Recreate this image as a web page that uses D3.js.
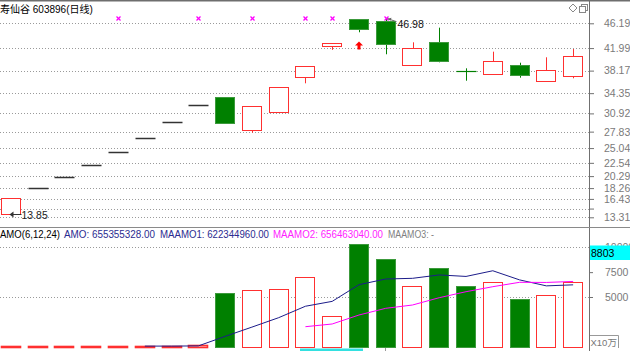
<!DOCTYPE html>
<html>
<head>
<meta charset="utf-8">
<script src="https://cdn.jsdelivr.net/npm/d3@7"></script>
<style>
  html, body { margin: 0; padding: 0; background: #fff; }
  svg { display: block; font-family: "Liberation Sans", Arial, "Noto Sans CJK SC", sans-serif; }
</style>
</head>
<body>
<svg id="container"></svg>
<script>
// ---- data ----
var title = "寿仙谷 603896(日线)";
var opens  = [13.85, 18.28, 20.11, 22.12, 24.33, 26.76, 29.44, 32.38, 33.65, 28.06, 31.10, 37.04, 42.29, 46.85, 46.58, 39.07, 43.07, 38.16, 37.60, 39.12, 36.46, 37.31];
var closes = [16.62, 18.28, 20.11, 22.12, 24.33, 26.76, 29.44, 32.38, 29.24, 32.12, 35.34, 38.90, 42.85, 45.17, 42.67, 41.95, 39.75, 38.16, 39.85, 37.43, 38.23, 40.70];
var highs  = [16.62, 18.28, 20.11, 22.12, 24.33, 26.76, 29.44, 32.38, 33.65, 32.12, 35.34, 38.90, 42.85, 46.85, 46.98, 42.97, 45.45, 38.56, 41.38, 39.51, 40.43, 41.83];
var lows   = [13.85, 18.28, 20.11, 22.12, 24.33, 26.76, 29.44, 32.38, 29.24, 27.65, 31.10, 36.02, 41.68, 44.67, 40.94, 39.07, 39.58, 36.46, 37.60, 36.97, 36.46, 36.87];
// r = up, g = down, f = one-price limit-up day
var kinds  = ["r","f","f","f","f","f","f","f","g","r","r","r","r","g","g","r","g","g","r","g","r","r"];
var volKinds = ["r","r","r","r","r","r","r","r","g","r","r","r","r","g","g","r","g","g","r","g","r","r"];
var amo    = [60, 60, 60, 60, 60, 60, 60, 150, 5402, 5734, 5835, 7042, 3119, 10332, 8793, 6137, 7887, 6137, 6539, 4829, 5171, 6553];
var maamo1 = [null, null, null, null, null, 60, 60, 80, 1040, 1970, 2920, 4070, 4560, 6240, 6810, 6880, 7220, 7070, 7640, 6720, 6120, 6223];
var maamo2 = [null, null, null, null, null, null, null, null, null, null, null, 2012, 2284, 3189, 3863, 4195, 4930, 5533, 6036, 6479, 6465, 6565];
var priceTicks = [13.31, 14.79, 16.43, 18.26, 20.29, 22.54, 25.04, 27.83, 30.92, 34.35, 38.17, 41.99, 46.19];
var unlabeledTicks = [14.79];
var volTicks = [5000, 7500, 10000];
var volGrid = [5000, 10000];
var signalMarks = [4, 7, 9, 11, 12, 14];   // magenta x marks on top
var buyArrow = {i: 13, v: 43.1};
var maxLabel = {i: 14, v: 46.98};
var minLabel = {i: 0, v: 13.85};
var cursorVol = 8803;
var amoLegend = [
  {t: "AMO(6,12,24)", c: "#000", x: 0, w: 60},
  {t: "AMO: 655355328.00", c: "#2b2b90", x: 64, w: 91},
  {t: "MAAMO1: 622344960.00", c: "#2b2b90", x: 160, w: 109},
  {t: "MAAMO2: 656463040.00", c: "#ff22ff", x: 273, w: 110},
  {t: "MAAMO3: -", c: "#808080", x: 388, w: 46}
];

var W = 630, H = 351, axisX = 589;
var RED = "#ff3030", GREEN = "#008000", GREEN_EDGE = "#3c9a3c";

var svg = d3.select("#container").attr("width", W).attr("height", H);

var idx = d3.range(opens.length);
var x = d3.scaleBand().domain(idx).range([-2.4, 586.5]).paddingInner(0.25).paddingOuter(0.125);
var bw = x.bandwidth();
function cx(i){ return Math.round(x(i) + bw / 2) + 0.5; }
function bx(i){ return Math.round(x(i)) + 0.5; }

var y = d3.scaleLinear().domain([13.31, 46.19]).range([217.3, 23.3]);
var yv = d3.scaleLinear().domain([0, 10000]).range([346.7, 247.3]);

// frame
svg.append("rect").attr("x", 0).attr("y", 0).attr("width", W).attr("height", 1.5).attr("fill", "#6e6e6e");
svg.append("line").attr("x1", axisX + 0.5).attr("x2", axisX + 0.5).attr("y1", 0).attr("y2", H)
  .attr("stroke", "#707070");
svg.append("line").attr("x1", 0).attr("x2", W).attr("y1", 227.5).attr("y2", 227.5).attr("stroke", "#8a8a8a");

// title
svg.append("text").attr("x", 0).attr("y", 12.5).attr("font-size", 10).attr("fill", "#000").text(title);

// icons top right
svg.append("path").attr("d", "M573,4 L577,8 L573,12 L569,8 Z").attr("fill", "none").attr("stroke", "#888");
svg.append("rect").attr("x", 581.5).attr("y", 4.5).attr("width", 6).attr("height", 6).attr("fill", "none").attr("stroke", "#888");
svg.append("rect").attr("x", 579.5).attr("y", 6.5).attr("width", 6).attr("height", 6).attr("fill", "#fff").attr("stroke", "#888");

// price grid
svg.append("g").selectAll("line").data(priceTicks).enter().append("line")
  .attr("x1", 0).attr("x2", axisX)
  .attr("y1", function(d){ return Math.round(y(d)) + 0.5; })
  .attr("y2", function(d){ return Math.round(y(d)) + 0.5; })
  .attr("stroke", "#9a9a9a").attr("stroke-dasharray", "1,2");

// price axis
var gY = svg.append("g").attr("transform", "translate(" + axisX + ",0)")
  .call(d3.axisRight(y).tickValues(priceTicks).tickSize(5).tickPadding(10)
    .tickFormat(function(d){ return unlabeledTicks.indexOf(d) >= 0 ? "" : d.toFixed(2); }));
gY.select(".domain").remove();
gY.selectAll(".tick line").attr("stroke", "#707070");
gY.selectAll(".tick text").attr("fill", "#7a7a7a").attr("font-size", 10.5).attr("font-family", "Liberation Sans, Arial");

// candles
var candles = svg.append("g");
idx.forEach(function(i){
  var k = kinds[i];
  var col = k === "r" ? RED : (k === "g" ? GREEN : "#333");
  var top = Math.round(y(Math.max(opens[i], closes[i])));
  var bot = Math.round(y(Math.min(opens[i], closes[i])));
  var c = cx(i);
  if (k === "f" || top === bot) {
    if (highs[i] !== lows[i])
      candles.append("line").attr("x1", c).attr("x2", c).attr("y1", y(highs[i])).attr("y2", y(lows[i])).attr("stroke", col);
    candles.append("line").attr("x1", bx(i)).attr("x2", bx(i) + Math.round(bw))
      .attr("y1", top + 0.5).attr("y2", top + 0.5).attr("stroke", col).attr("stroke-width", k === "f" ? 1.5 : 1.2);
    return;
  }
  if (highs[i] > Math.max(opens[i], closes[i]))
    candles.append("line").attr("x1", c).attr("x2", c).attr("y1", y(highs[i])).attr("y2", top).attr("stroke", col);
  if (lows[i] < Math.min(opens[i], closes[i]))
    candles.append("line").attr("x1", c).attr("x2", c).attr("y1", bot).attr("y2", y(lows[i])).attr("stroke", col);
  candles.append("rect").attr("x", bx(i)).attr("y", top + 0.5)
    .attr("width", Math.round(bw) - 1).attr("height", Math.max(1, bot - top))
    .attr("fill", k === "r" ? "#fff" : GREEN)
    .attr("stroke", k === "r" ? RED : GREEN_EDGE);
});

// magenta x marks
var xm = svg.append("g").attr("stroke", "#ff00ff").attr("stroke-width", 1.3);
signalMarks.forEach(function(i){
  var c = cx(i), yy = Math.round(y(47.05)) + 0.5;
  xm.append("line").attr("x1", c - 2).attr("x2", c + 2).attr("y1", yy - 2).attr("y2", yy + 2);
  xm.append("line").attr("x1", c - 2).attr("x2", c + 2).attr("y1", yy + 2).attr("y2", yy - 2);
});

// red buy arrow
(function(){
  var c = cx(buyArrow.i) - 0.5, t = y(buyArrow.v);
  svg.append("path").attr("fill", "#ff0000")
    .attr("d", "M" + c + "," + t + " L" + (c + 4) + "," + (t + 4) + " L" + (c + 1.5) + "," + (t + 4) +
      " L" + (c + 1.5) + "," + (t + 8) + " L" + (c - 1.5) + "," + (t + 8) + " L" + (c - 1.5) + "," + (t + 4) +
      " L" + (c - 4) + "," + (t + 4) + " Z");
})();

// max / min labels
(function(){
  var c = cx(maxLabel.i), yy = y(maxLabel.v);
  svg.append("line").attr("x1", c + 1).attr("y1", yy).attr("x2", c + 10).attr("y2", yy + 3).attr("stroke", "#666");
  svg.append("path").attr("d", "M" + (c + 1) + "," + yy + " l4,-1 l-1,3 z").attr("fill", "#666");
  svg.append("text").attr("x", c + 11).attr("y", yy + 9).attr("font-size", 10.5).attr("fill", "#111").text(maxLabel.v.toFixed(2));

  var c0 = cx(minLabel.i), y0 = Math.round(y(minLabel.v)) + 0.5;
  svg.append("line").attr("x1", c0 - 1).attr("y1", y0).attr("x2", c0 + 10).attr("y2", y0).attr("stroke", "#333");
  svg.append("path").attr("d", "M" + (c0 - 2) + "," + y0 + " l4,-3 l0,6 z").attr("fill", "#333");
  svg.append("text").attr("x", c0 + 10).attr("y", y0 + 4).attr("font-size", 10.5).attr("fill", "#222").text(minLabel.v.toFixed(2));
})();

// ---- AMO pane ----
var legend = svg.append("g").attr("font-size", 10);
amoLegend.forEach(function(d){
  legend.append("text").attr("x", d.x).attr("y", 237.5).attr("fill", d.c)
    .attr("textLength", d.w).attr("lengthAdjust", "spacingAndGlyphs").text(d.t);
});

svg.append("g").selectAll("line").data(volGrid).enter().append("line")
  .attr("x1", 0).attr("x2", axisX)
  .attr("y1", function(d){ return Math.round(yv(d)) + 0.5; })
  .attr("y2", function(d){ return Math.round(yv(d)) + 0.5; })
  .attr("stroke", "#9a9a9a").attr("stroke-dasharray", "1,2");

var gV = svg.append("g").attr("transform", "translate(" + axisX + ",0)")
  .call(d3.axisRight(yv).tickValues(volTicks).tickSize(4).tickPadding(12).tickFormat(d3.format("d")));
gV.select(".domain").remove();
gV.selectAll(".tick line").attr("stroke", "#707070");
gV.selectAll(".tick text").attr("fill", "#7a7a7a").attr("font-size", 10.5).attr("font-family", "Liberation Sans, Arial");

var vb = svg.append("g");
idx.forEach(function(i){
  var top = Math.round(yv(amo[i]));
  var base = Math.round(yv(0));
  var g = volKinds[i] === "g";
  vb.append("rect").attr("x", bx(i)).attr("y", top + 0.5)
    .attr("width", Math.round(bw) - 1).attr("height", Math.max(0.5, base - top))
    .attr("fill", g ? GREEN : "#fff").attr("stroke", g ? GREEN_EDGE : RED)
    .attr("stroke-width", amo[i] < 200 ? 1.6 : 1);
});

var line = d3.line().defined(function(d){ return d != null; })
  .x(function(d, i){ return x(i) + bw / 2; }).y(function(d){ return yv(d); });
svg.append("path").datum(maamo1).attr("d", line).attr("fill", "none").attr("stroke", "#1c1c8a").attr("stroke-width", 1);
svg.append("path").datum(maamo2).attr("d", line).attr("fill", "none").attr("stroke", "#ff00ff").attr("stroke-width", 1);

// cursor value box
(function(){
  var yy = Math.round(yv(cursorVol));
  svg.append("rect").attr("x", axisX + 1).attr("y", yy - 13.5).attr("width", W - axisX - 1).attr("height", 14.5).attr("fill", "#00ffff");
  svg.append("text").attr("x", axisX + 2).attr("y", yy - 2.5).attr("font-size", 10.5).attr("fill", "#000").text(cursorVol);
})();

// unit box
svg.append("path").attr("d", "M590,335.5 H618.5 V348").attr("fill", "none").attr("stroke", "#999");
svg.append("text").attr("x", 590.5).attr("y", 346).attr("font-size", 9.5).attr("fill", "#777").text("X10万");

// bottom strip
svg.append("rect").attr("x", 300).attr("y", 348.5).attr("width", 63).attr("height", 3).attr("fill", "#33e0e0");
svg.append("line").attr("x1", 385.5).attr("x2", 385.5).attr("y1", 348).attr("y2", 351).attr("stroke", "#999");
</script>
</body>
</html>
